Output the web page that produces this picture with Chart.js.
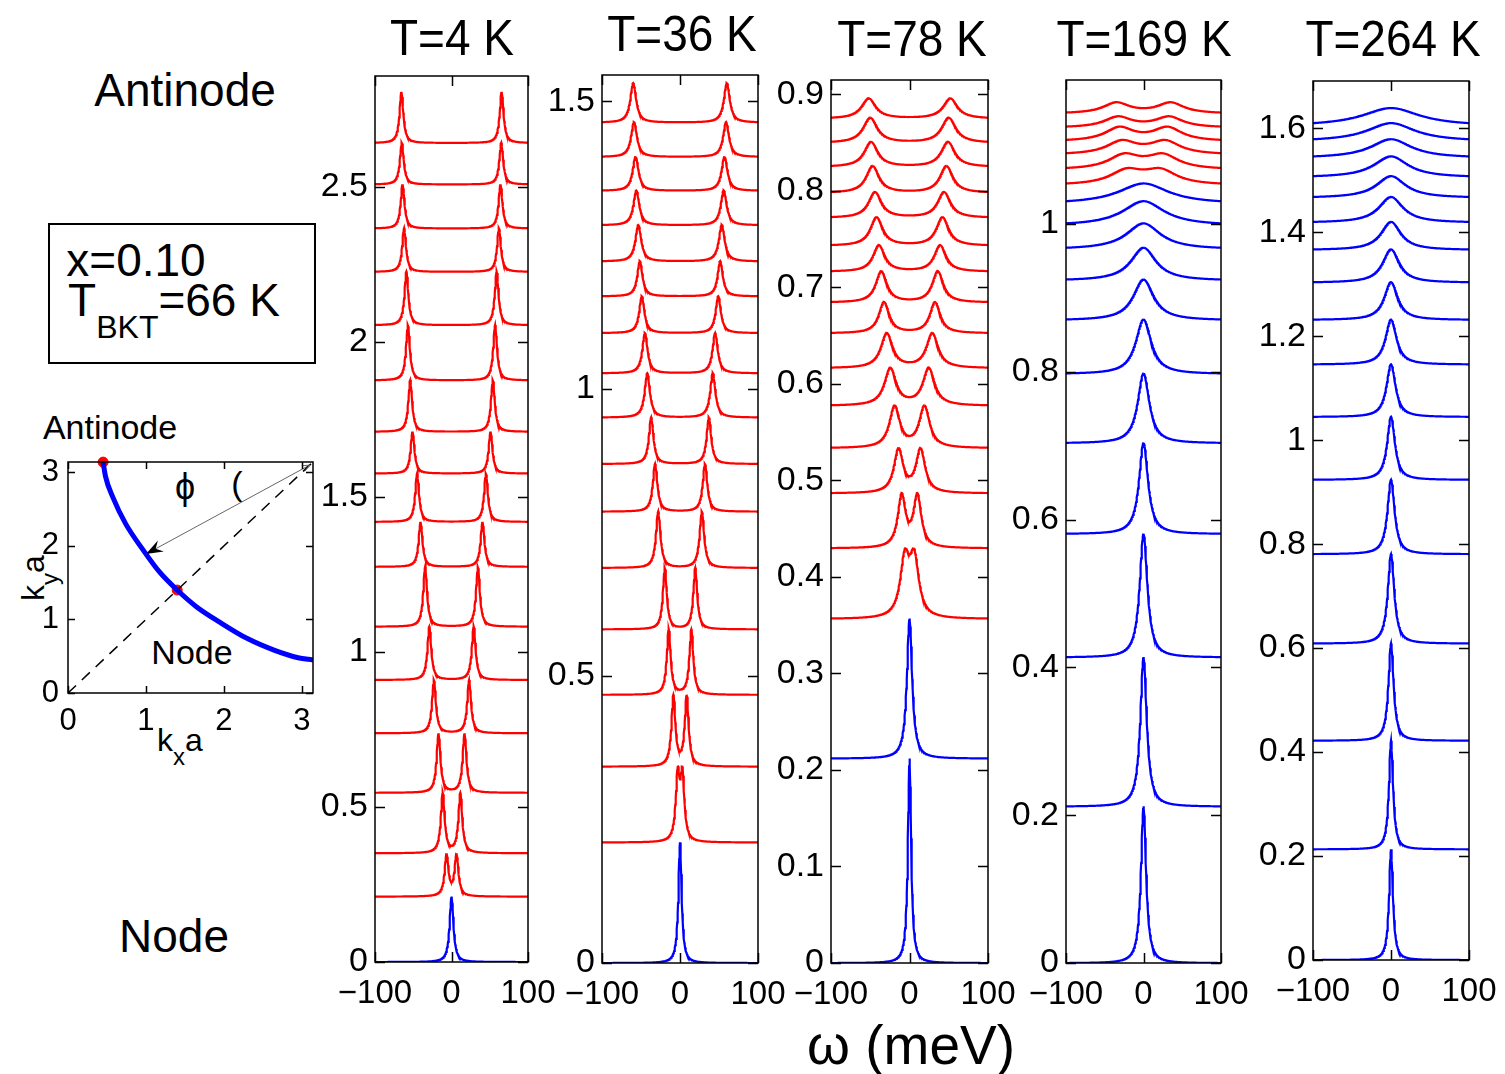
<!DOCTYPE html>
<html>
<head>
<meta charset="utf-8">
<script src="https://cdn.jsdelivr.net/npm/chart.js@4.4.1/dist/chart.umd.min.js"></script>
<style>
body { margin:0; background:#fff; width:1505px; height:1074px; position:relative; overflow:hidden;
       font-family:"Liberation Sans", Arial, sans-serif; }
canvas { position:absolute; }
.t { position:absolute; white-space:nowrap; color:#000; line-height:1; transform:translate(-50%,-50%); }
.title { transform:translate(-50%,-50%) scaleY(1.1); }
.box { position:absolute; left:48px; top:223px; width:264px; height:137px; border:2px solid #000; }
</style>
</head>
<body>
<div class="box"></div>
<div class="t" style="left:185px;top:90px;font-size:46px">Antinode</div>
<div class="t" style="left:174px;top:936px;font-size:46px">Node</div>
<div class="t" style="left:136px;top:260px;font-size:46px">x=0.10</div>
<div class="t" style="left:174px;top:300px;font-size:46px">T<span style="font-size:32px;position:relative;top:22px">BKT</span>=66 K</div>
<div class="t" style="left:110px;top:427px;font-size:34px">Antinode</div>
<div class="t" style="left:192px;top:652px;font-size:34px">Node</div>
<div class="t" style="left:185px;top:487px;font-size:36px">ϕ</div>
<div class="t" style="left:237px;top:483px;font-size:34px">(</div>
<div class="t" style="left:180px;top:740px;font-size:32px">k<span style="font-size:24px;position:relative;top:14px">x</span>a</div>
<div class="t" style="left:33px;top:578px;font-size:32px;transform:translate(-50%,-50%) rotate(-90deg)">k<span style="font-size:24px;position:relative;top:14px">y</span>a</div>
<div class="t" style="left:911px;top:1045px;font-size:55px">ω (meV)</div>

<script>
// ===== DATA =====
const temps = ['T=4 K', 'T=36 K', 'T=78 K', 'T=169 K', 'T=264 K'];
const omegaTicks = [-100, 0, 100];

// T=4 K : baseline offsets, peak tops, gap position (meV), peak half width (meV)
const yTicks4 = [0, 0.5, 1, 1.5, 2, 2.5];
const base4  = [2.643, 2.509, 2.367, 2.227, 2.055, 1.877, 1.711, 1.576, 1.420, 1.275, 1.082, 0.910, 0.738, 0.546, 0.351, 0.211, 0];
const peak4  = [2.807, 2.643, 2.509, 2.367, 2.227, 2.055, 1.877, 1.711, 1.576, 1.420, 1.275, 1.082, 0.910, 0.738, 0.546, 0.351, 0.211];
const gap4   = [65.5, 65, 64, 62, 59, 57, 54, 51, 45, 40.5, 34.5, 29, 23, 17, 11.5, 6.5, 0];
const width4 = [3, 3, 3, 3, 3, 3, 3, 3, 3, 3, 3, 3, 3, 3, 3, 3, 3];

// T=36 K
const yTicks36 = [0, 0.5, 1, 1.5];
const base36  = [1.464, 1.404, 1.345, 1.285, 1.222, 1.161, 1.097, 1.027, 0.950, 0.869, 0.786, 0.688, 0.581, 0.467, 0.342, 0.210, 0];
const peak36  = [1.532, 1.464, 1.404, 1.345, 1.285, 1.222, 1.161, 1.097, 1.027, 0.950, 0.869, 0.786, 0.688, 0.581, 0.467, 0.342, 0.210];
const gap36   = [60, 59, 57, 56, 53.5, 51.5, 49, 45, 42, 37, 32, 28, 19.5, 14.5, 8.5, 3, 0];
const width36 = [4.5, 4.5, 4.5, 4.5, 4.5, 4, 4, 4, 4, 3.5, 3.5, 3.5, 3, 3, 3, 3, 2.5];

// T=78 K
const yTicks78 = [0, 0.1, 0.2, 0.3, 0.4, 0.5, 0.6, 0.7, 0.8, 0.9];
const base78  = [0.876, 0.851, 0.826, 0.799, 0.773, 0.744, 0.717, 0.685, 0.653, 0.617, 0.578, 0.534, 0.487, 0.430, 0.357, 0.212, 0];
const peak78  = [0.896, 0.876, 0.851, 0.826, 0.799, 0.773, 0.744, 0.717, 0.685, 0.653, 0.617, 0.578, 0.534, 0.487, 0.430, 0.357, 0.212];
const gap78   = [52, 50, 49, 47, 44, 42, 39, 36, 32.5, 29, 24.5, 19, 14, 10, 6, 0, 0];
const width78 = [11, 11, 10.5, 10, 10, 9.5, 9, 8.5, 8, 9, 9, 8, 7, 6, 7, 4, 2.5];

// T=169 K
const yTicks169 = [0, 0.2, 0.4, 0.6, 0.8, 1];
const base169  = [1.151, 1.132, 1.114, 1.096, 1.076, 1.055, 1.031, 1.001, 0.968, 0.925, 0.871, 0.798, 0.704, 0.581, 0.414, 0.212, 0];
const peak169  = [1.165, 1.146, 1.132, 1.114, 1.096, 1.076, 1.055, 1.031, 1.001, 0.968, 0.925, 0.871, 0.798, 0.704, 0.581, 0.414, 0.212];
const gap169   = [35, 33, 31, 28, 25, 22, 0, 0, 0, 0, 0, 0, 0, 0, 0, 0, 0];
const width169 = [21, 22, 23, 24, 25, 26, 40, 33, 27, 20, 16, 12, 9, 7, 6, 5, 4];

// T=264 K
const yTicks264 = [0, 0.2, 0.4, 0.6, 0.8, 1, 1.2, 1.4, 1.6];
const base264  = [1.610, 1.579, 1.546, 1.508, 1.468, 1.420, 1.367, 1.304, 1.232, 1.146, 1.045, 0.924, 0.781, 0.609, 0.422, 0.213, 0];
const peak264  = [1.639, 1.610, 1.579, 1.546, 1.508, 1.468, 1.420, 1.367, 1.304, 1.232, 1.146, 1.045, 0.924, 0.781, 0.609, 0.422, 0.213];
const gap264   = [0, 0, 0, 0, 0, 0, 0, 0, 0, 0, 0, 0, 0, 0, 0, 0, 0];
const width264 = [45, 38, 32, 27, 23, 19, 15.5, 13, 10.5, 8.5, 7, 6, 5.5, 5, 4, 3.2, 3];

const yMax = [2.858, 1.546, 0.915, 1.195, 1.691];

// Fermi surface inset (k in units of 1/a)
const kTicks = [0, 1, 2, 3];
const fsKx = [0.45, 0.48, 0.58, 0.74, 0.96, 1.17, 1.40, 1.65, 1.95, 2.30, 2.65, 2.95, 3.1416];
const fsKy = [3.1416, 2.95, 2.65, 2.30, 1.95, 1.65, 1.40, 1.17, 0.96, 0.74, 0.58, 0.48, 0.45];
const diagK = [0, 3.1416];
const spotKx = [0.45, 1.40];
const spotKy = [3.14, 1.40];
const arrowKx = [3.10, 1.00];
const arrowKy = [3.10, 1.89];

// ===== LAYOUT =====
const boxes = [
  {l:375, r:528, t:76, b:962}, {l:602, r:758, t:75, b:963}, {l:831, r:988, t:80, b:963},
  {l:1066, r:1221, t:80, b:963}, {l:1313, r:1469, t:81, b:960}
];
const titlePos = [[452, 37], [682, 33], [912, 38], [1144, 38], [1393, 38]];

Chart.defaults.font.family = '"Liberation Sans", Arial, sans-serif';
Chart.defaults.color = '#000';

const RED = '#ff0000', BLUE = '#0000ff';

// omega sampling for the spectra
const omegaGrid = [];
for (let w = -100; w <= 100; w += 0.5) omegaGrid.push(w);

// lorentzian line shape, ends pinned to the baseline and max to the read peak
function spectrum(b, p, g, w) {
  const L = x => 1 / (1 + (x / w) * (x / w));
  const S = x => g > 0 ? L(x - g) + L(x + g) : L(x);
  const s0 = S(100);
  let smax = 0;
  omegaGrid.forEach(x => { smax = Math.max(smax, S(x)); });
  return omegaGrid.map(x => ({x, y: b + (p - b) * (S(x) - s0) / (smax - s0)}));
}

const fmt = v => String(+(+v).toFixed(2)).replace('-', '\u2212');

// frame + inward ticks on all sides
const framePlugin = {
  id: 'frame',
  afterDraw(chart, args, opts) {
    const {ctx, chartArea: a, scales} = chart;
    const len = opts.len || 10;
    ctx.save();
    ctx.strokeStyle = '#000';
    ctx.lineWidth = 1.5;
    ctx.strokeRect(a.left, a.top, a.right - a.left, a.bottom - a.top);
    ctx.beginPath();
    scales.y.ticks.forEach(t => {
      const y = Math.round(scales.y.getPixelForValue(t.value)) + 0.5;
      ctx.moveTo(a.left, y); ctx.lineTo(a.left + len, y);
      ctx.moveTo(a.right, y); ctx.lineTo(a.right - len, y);
    });
    scales.x.ticks.forEach(t => {
      const x = Math.round(scales.x.getPixelForValue(t.value)) + 0.5;
      ctx.moveTo(x, a.bottom); ctx.lineTo(x, a.bottom - len);
      ctx.moveTo(x, a.top); ctx.lineTo(x, a.top + len);
    });
    ctx.stroke();
    ctx.restore();
  }
};

function makeCanvas(left, top, w, h) {
  const cv = document.createElement('canvas');
  cv.width = w; cv.height = h;
  cv.style.left = left + 'px'; cv.style.top = top + 'px';
  document.body.appendChild(cv);
  return cv;
}

function panel(i, base, peak, gap, width, yTicks) {
  const bx = boxes[i];
  const YW = 90, XH = 60, PT = 30, PR = 45;
  const cv = makeCanvas(bx.l - YW, bx.t - PT, YW + bx.r - bx.l + PR, PT + bx.b - bx.t + XH);
  const datasets = base.map((b, k) => ({
    data: spectrum(b, peak[k], gap[k], width[k]),
    borderColor: gap[k] > 0 ? RED : BLUE,
    borderWidth: 2.2, pointRadius: 0, fill: false, tension: 0
  }));
  new Chart(cv, {
    type: 'line',
    data: {datasets},
    options: {
      responsive: false, animation: false, devicePixelRatio: 1, parsing: false,
      layout: {padding: {top: PT, right: PR, left: 0, bottom: 0}},
      plugins: {legend: {display: false}, tooltip: {enabled: false}, frame: {len: 10}},
      scales: {
        x: {
          type: 'linear', min: -100, max: 100,
          afterBuildTicks: s => { s.ticks = omegaTicks.map(v => ({value: v})); },
          afterFit: s => { s.height = XH; },
          grid: {display: false, drawTicks: false}, border: {display: false},
          ticks: {font: {size: 33}, padding: 12, maxRotation: 0, autoSkip: false, callback: fmt}
        },
        y: {
          type: 'linear', min: 0, max: yMax[i],
          afterBuildTicks: s => { s.ticks = yTicks.map(v => ({value: v})); },
          afterFit: s => { s.width = YW; },
          grid: {display: false, drawTicks: false}, border: {display: false},
          ticks: {font: {size: 34}, padding: 7, autoSkip: false, callback: fmt}
        }
      }
    },
    plugins: [framePlugin]
  });
  const tt = document.createElement('div');
  tt.className = 't title';
  tt.style.left = titlePos[i][0] + 'px';
  tt.style.top = titlePos[i][1] + 'px';
  tt.style.fontSize = '46px';
  tt.textContent = temps[i];
  document.body.appendChild(tt);
}

panel(0, base4, peak4, gap4, width4, yTicks4);
panel(1, base36, peak36, gap36, width36, yTicks36);
panel(2, base78, peak78, gap78, width78, yTicks78);
panel(3, base169, peak169, gap169, width169, yTicks169);
panel(4, base264, peak264, gap264, width264, yTicks264);

// ===== inset: Fermi surface =====
const arrowPlugin = {
  id: 'arrowHeads',
  afterDatasetsDraw(chart) {
    const {ctx, scales: {x, y}} = chart;
    const x0 = x.getPixelForValue(arrowKx[0]), y0 = y.getPixelForValue(arrowKy[0]);
    const x1 = x.getPixelForValue(arrowKx[1]), y1 = y.getPixelForValue(arrowKy[1]);
    const ang = Math.atan2(y1 - y0, x1 - x0);
    ctx.save();
    ctx.fillStyle = '#000';
    ctx.beginPath();
    ctx.moveTo(x1, y1);
    ctx.lineTo(x1 - 18 * Math.cos(ang - 0.35), y1 - 18 * Math.sin(ang - 0.35));
    ctx.lineTo(x1 - 11 * Math.cos(ang), y1 - 11 * Math.sin(ang));
    ctx.lineTo(x1 - 18 * Math.cos(ang + 0.35), y1 - 18 * Math.sin(ang + 0.35));
    ctx.closePath();
    ctx.fill();
    ctx.strokeStyle = '#666';
    ctx.lineWidth = 1;
    ctx.beginPath();
    ctx.moveTo(x0 + 8 * Math.cos(ang - 0.4), y0 + 8 * Math.sin(ang - 0.4));
    ctx.lineTo(x0, y0);
    ctx.lineTo(x0 + 8 * Math.cos(ang + 0.4), y0 + 8 * Math.sin(ang + 0.4));
    ctx.stroke();
    ctx.restore();
  }
};

(function inset() {
  const bx = {l: 68, r: 313, t: 462, b: 693};
  const YW = 60, XH = 45, PT = 30, PR = 20;
  const cv = makeCanvas(bx.l - YW, bx.t - PT, YW + bx.r - bx.l + PR, PT + bx.b - bx.t + XH);
  const pts = (xs, ys) => xs.map((v, k) => ({x: v, y: ys[k]}));
  new Chart(cv, {
    type: 'line',
    data: {datasets: [
      {data: pts(diagK, diagK), borderColor: '#000', borderWidth: 1.5, borderDash: [11, 8], pointRadius: 0},
      {data: pts(arrowKx, arrowKy), borderColor: '#666', borderWidth: 1, pointRadius: 0},
      {data: pts(fsKx, fsKy), borderColor: BLUE, borderWidth: 5, pointRadius: 0, cubicInterpolationMode: 'monotone'},
      {data: pts(spotKx, spotKy), showLine: false, pointRadius: 5, pointBackgroundColor: RED, pointBorderColor: RED, clip: false}
    ]},
    options: {
      responsive: false, animation: false, devicePixelRatio: 1, parsing: false,
      layout: {padding: {top: PT, right: PR, left: 0, bottom: 0}},
      plugins: {legend: {display: false}, tooltip: {enabled: false}, frame: {len: 7}},
      scales: {
        x: {
          type: 'linear', min: 0, max: Math.PI,
          afterBuildTicks: s => { s.ticks = kTicks.map(v => ({value: v})); },
          afterFit: s => { s.height = XH; },
          grid: {display: false, drawTicks: false}, border: {display: false},
          ticks: {font: {size: 31}, padding: 10, maxRotation: 0, autoSkip: false, callback: fmt}
        },
        y: {
          type: 'linear', min: 0, max: Math.PI,
          afterBuildTicks: s => { s.ticks = kTicks.map(v => ({value: v})); },
          afterFit: s => { s.width = YW; },
          grid: {display: false, drawTicks: false}, border: {display: false},
          ticks: {font: {size: 31}, padding: 9, autoSkip: false, callback: fmt}
        }
      }
    },
    plugins: [framePlugin, arrowPlugin]
  });
})();
</script>
</body>
</html>
